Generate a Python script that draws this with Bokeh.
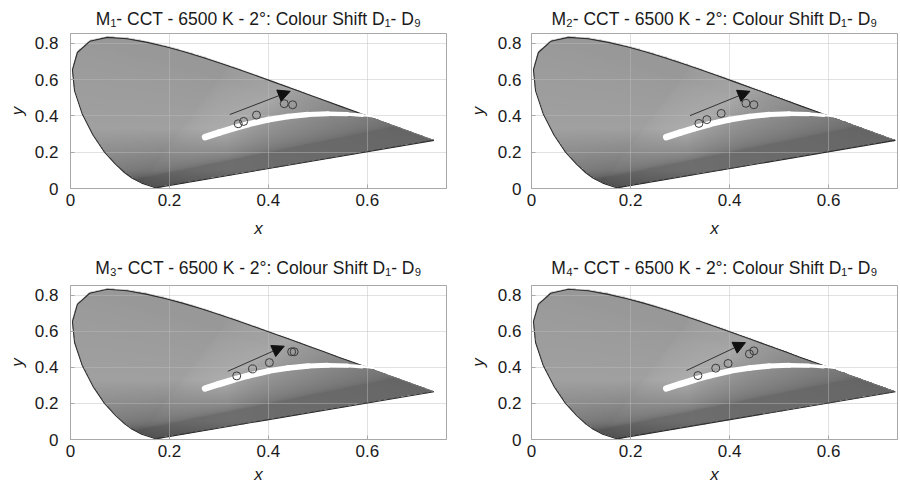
import numpy as np
from bokeh.plotting import figure
from bokeh.models import (ColumnDataSource, Arrow, NormalHead, FixedTicker,
                          NumeralTickFormatter, Range1d)
from bokeh.layouts import column, row
from bokeh.embed import file_html
from bokeh.resources import INLINE

# ---------------- data ----------------
# CIE 1931 2-degree spectral locus (380 nm ... 700 nm)
locus_x = [0.1741, 0.1733, 0.1714, 0.1689, 0.1644, 0.1566, 0.1440, 0.1241, 0.1096,
           0.0913, 0.0687, 0.0454, 0.0235, 0.0082, 0.0039, 0.0139, 0.0389, 0.0743,
           0.1142, 0.1547, 0.1929, 0.2296, 0.2658, 0.3016, 0.3373, 0.3731, 0.4087,
           0.4441, 0.4788, 0.5125, 0.5448, 0.5752, 0.6029, 0.6270, 0.6658, 0.6915,
           0.7079, 0.7190, 0.7260, 0.7347]
locus_y = [0.0050, 0.0048, 0.0051, 0.0069, 0.0109, 0.0177, 0.0297, 0.0578, 0.0868,
           0.1327, 0.2007, 0.2950, 0.4127, 0.5384, 0.6548, 0.7502, 0.8120, 0.8338,
           0.8262, 0.8059, 0.7816, 0.7543, 0.7243, 0.6923, 0.6589, 0.6245, 0.5896,
           0.5547, 0.5202, 0.4866, 0.4544, 0.4242, 0.3965, 0.3725, 0.3340, 0.3083,
           0.2920, 0.2809, 0.2740, 0.2653]
dark_edge_count = 33  # outline drawn dark up to ~595 nm

# white (Planckian-like) band
band_x = [0.272, 0.300, 0.330, 0.360, 0.400, 0.440, 0.480, 0.520, 0.560, 0.590, 0.612]
band_y = [0.283, 0.308, 0.333, 0.355, 0.380, 0.397, 0.408, 0.412, 0.410, 0.404, 0.397]
band_w = [6.5, 6.5, 6.3, 6.0, 5.7, 5.4, 5.0, 4.4, 3.4, 2.2]

titles = ["M\u2081- CCT - 6500 K - 2\u00b0: Colour Shift D\u2081- D\u2089",
          "M\u2082- CCT - 6500 K - 2\u00b0: Colour Shift D\u2081- D\u2089",
          "M\u2083- CCT - 6500 K - 2\u00b0: Colour Shift D\u2081- D\u2089",
          "M\u2084- CCT - 6500 K - 2\u00b0: Colour Shift D\u2081- D\u2089"]

shift_x = [[0.339, 0.350, 0.376, 0.432, 0.449],
           [0.338, 0.354, 0.383, 0.433, 0.449],
           [0.336, 0.368, 0.402, 0.447, 0.452],
           [0.336, 0.372, 0.397, 0.440, 0.449]]
shift_y = [[0.357, 0.370, 0.405, 0.468, 0.462],
           [0.359, 0.380, 0.414, 0.470, 0.462],
           [0.353, 0.392, 0.427, 0.487, 0.487],
           [0.355, 0.396, 0.422, 0.475, 0.492]]

arrow_x0 = [0.322, 0.320, 0.318, 0.313]
arrow_y0 = [0.408, 0.402, 0.379, 0.383]
arrow_x1 = [0.444, 0.441, 0.432, 0.432]
arrow_y1 = [0.536, 0.536, 0.518, 0.538]

x_ticks = [0, 0.2, 0.4, 0.6]
y_ticks = [0, 0.2, 0.4, 0.6, 0.8]

# ---------------- shading of the diagram ----------------
IX0, IX1, IY0, IY1 = 0.0, 0.76, 0.0, 0.86
nx, ny = 760, 430
xs = IX0 + (np.arange(nx) + 0.5) * (IX1 - IX0) / nx
ys = IY0 + (np.arange(ny) + 0.5) * (IY1 - IY0) / ny
XX, YY = np.meshgrid(xs, ys)
px = np.array(locus_x)
py = np.array(locus_y)
inside = np.zeros(XX.shape, dtype=bool)
j = len(px) - 1
for i in range(len(px)):
    xi, yi, xj, yj = px[i], py[i], px[j], py[j]
    cond = ((yi > YY) != (yj > YY)) & (XX < (xj - xi) * (YY - yi) / (yj - yi + 1e-12) + xi)
    inside ^= cond
    j = i
Yc = np.maximum(YY, 1e-4)
Xv = XX / Yc
Zv = np.maximum(1 - XX - YY, 0) / Yc
R = 3.2406 * Xv - 1.5372 - 0.4986 * Zv
G = -0.9689 * Xv + 1.8758 + 0.0415 * Zv
B = 0.0557 * Xv - 0.2040 + 1.0570 * Zv
rgb = np.clip(np.stack([R, G, B]), 0, None)
rgb = rgb / (rgb.max(axis=0, keepdims=True) + 1e-9)
rgb = rgb ** (1 / 2.2)
gl = 0.15 * rgb[0] + 0.75 * rgb[1] + 0.10 * rgb[2]
val = 0.35 + 0.33 * gl - 0.09 * np.clip(1 - YY / 0.1, 0, 1)
val = np.clip(val, 0, 1)
img = np.zeros((ny, nx), dtype=np.uint32)
view = img.view(dtype=np.uint8).reshape((ny, nx, 4))
g8 = (val * 255).astype(np.uint8)
view[:, :, 0] = g8
view[:, :, 1] = g8
view[:, :, 2] = g8
view[:, :, 3] = np.where(inside, 255, 0).astype(np.uint8)
img_src = ColumnDataSource(dict(image=[img], x=[IX0], y=[IY0], dw=[IX1 - IX0], dh=[IY1 - IY0]))

FONT = "Liberation Sans"


def make_panel(k, width, height, bl, br, bt, bb, xmax, title_standoff,
               xlab_standoff, ytick_standoff, ylab_standoff):
    p = figure(width=width, height=height, output_backend="svg", toolbar_location=None,
               x_range=Range1d(0, xmax), y_range=Range1d(0, 0.855),
               min_border_left=bl, min_border_right=br, min_border_top=bt,
               min_border_bottom=bb)
    p.title.text = titles[k]
    p.title.align = "center"
    p.title.text_font = FONT
    p.title.text_font_size = "17.5px"
    p.title.text_font_style = "normal"
    p.title.text_color = "#1a1a1a"
    p.title.standoff = title_standoff

    r = p.image_rgba(image="image", x="x", y="y", dw="dw", dh="dh", source=img_src)
    r.level = "image"

    # outline of the horseshoe
    p.line(locus_x[:dark_edge_count], locus_y[:dark_edge_count], line_color="#2e2e2e", line_width=1.1)
    p.line(locus_x[dark_edge_count - 1:], locus_y[dark_edge_count - 1:], line_color="#707070", line_width=0.8)
    p.line([locus_x[-1], locus_x[0]], [locus_y[-1], locus_y[0]], line_color="#2e2e2e", line_width=1.1)

    # white band
    segx = [[band_x[i], band_x[i + 1]] for i in range(len(band_x) - 1)]
    segy = [[band_y[i], band_y[i + 1]] for i in range(len(band_y) - 1)]
    p.multi_line(xs=segx, ys=segy, line_width=band_w, line_color="white", line_cap="round")

    # arrow
    asrc = ColumnDataSource(dict(x0=[arrow_x0[k]], y0=[arrow_y0[k]], x1=[arrow_x1[k]], y1=[arrow_y1[k]]))
    p.add_layout(Arrow(end=NormalHead(size=12, fill_color="#111111", line_color="#111111"),
                       x_start="x0", y_start="y0", x_end="x1", y_end="y1", source=asrc,
                       line_color="#333333", line_width=1))

    # colour shift points
    p.scatter(shift_x[k], shift_y[k], marker="circle", size=8, fill_color=None,
              line_color="#3a3a3a", line_width=1)

    p.xaxis.ticker = FixedTicker(ticks=x_ticks)
    p.yaxis.ticker = FixedTicker(ticks=y_ticks)
    for ax in (p.xaxis[0], p.yaxis[0]):
        ax.formatter = NumeralTickFormatter(format="0.[0]")
        ax.major_label_text_font = FONT
        ax.major_label_text_font_size = "17px"
        ax.major_label_text_color = "#1a1a1a"
        ax.axis_label_text_font = FONT
        ax.axis_label_text_font_size = "17px"
        ax.axis_label_text_font_style = "italic"
        ax.axis_label_text_color = "#1a1a1a"
        ax.axis_line_color = "#a8a8a8"
        ax.major_tick_in = 4
        ax.major_tick_out = 0
        ax.major_tick_line_color = "#a8a8a8"
        ax.minor_tick_line_color = None
    p.xaxis.axis_label = "x"
    p.yaxis.axis_label = "y"
    p.xaxis.major_label_standoff = 5
    p.xaxis.axis_label_standoff = xlab_standoff
    p.yaxis.major_label_standoff = ytick_standoff
    p.yaxis.axis_label_standoff = ylab_standoff

    p.xgrid.ticker = FixedTicker(ticks=x_ticks)
    p.ygrid.ticker = FixedTicker(ticks=y_ticks)
    p.grid.grid_line_color = "#bdbdbd"
    p.grid.grid_line_alpha = 0.45
    p.outline_line_color = "#a8a8a8"
    p.outline_line_width = 1
    p.background_fill_color = "white"
    p.border_fill_color = "white"
    return p


f1 = make_panel(0, 465, 246, 70, 19, 33, 58, 0.76, 10, 10, 12, 5)
f2 = make_panel(1, 433, 246, 62, 1, 33, 58, 0.739, 10, 10, 10, 7)
f3 = make_panel(2, 465, 240, 70, 19, 39, 47, 0.76, 16, 5, 12, 5)
f4 = make_panel(3, 433, 240, 62, 1, 39, 47, 0.739, 16, 5, 10, 7)

layout = column(row(f1, f2), row(f3, f4))
open("out.html", "w").write(file_html(layout, INLINE))
